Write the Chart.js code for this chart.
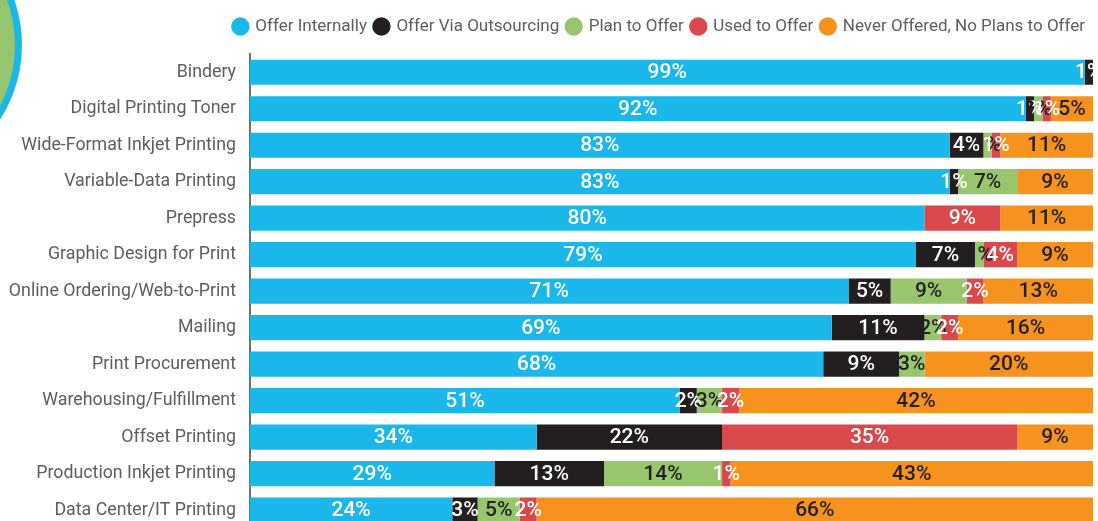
<!DOCTYPE html>
<html>
<head>
<meta charset="utf-8">
<script src="https://cdn.jsdelivr.net/npm/chart.js@4"></script>
<style>
  html, body { margin: 0; padding: 0; background: #fff; overflow: hidden; }
  #wrap { position: relative; width: 1098px; height: 553px; }
  #badge {
    position: absolute; left: -254px; top: -93px;
    width: 262px; height: 262px; border-radius: 50%;
    background: #98c66f; border: 7px solid #1ab7ea;
  }
</style>
</head>
<body>
<div id="wrap">
  <div id="badge"></div>
  <canvas id="chart" width="1098" height="553"></canvas>
</div>
<script>
// services (top to bottom)
const categories = [
  'Bindery', 'Digital Printing Toner', 'Wide-Format Inkjet Printing',
  'Variable-Data Printing', 'Prepress', 'Graphic Design for Print',
  'Online Ordering/Web-to-Print', 'Mailing', 'Print Procurement',
  'Warehousing/Fulfillment', 'Offset Printing', 'Production Inkjet Printing',
  'Data Center/IT Printing'
];

const offerInternally  = [99, 92, 83, 83, 80, 79, 71, 69, 68, 51, 34, 29, 24];
const offerOutsourcing = [1, 1, 4, 1, 0, 7, 5, 11, 9, 2, 22, 13, 3];
const planToOffer      = [0, 1, 1, 7, 0, 1, 9, 2, 3, 3, 0, 14, 5];
const usedToOffer      = [0, 1, 1, 0, 9, 4, 2, 2, 0, 2, 35, 1, 2];
const neverOffered     = [0, 5, 11, 9, 11, 9, 13, 16, 20, 42, 9, 43, 66];

const seriesNames = ['Offer Internally', 'Offer Via Outsourcing', 'Plan to Offer', 'Used to Offer', 'Never Offered, No Plans to Offer'];
const colors = ['#1ab7ea', '#231f20', '#98c66f', '#d9484a', '#f6921e'];
const labelColors = ['#ffffff', '#ffffff', '#231f20', '#ffffff', '#231f20'];

const FONT = 'Roboto, "DejaVu Sans", sans-serif';

// draws the % value in the middle of each segment
const segmentLabels = {
  id: 'segmentLabels',
  afterDatasetsDraw(chart) {
    const ctx = chart.ctx;
    ctx.save();
    ctx.font = '500 21px ' + FONT;
    ctx.textAlign = 'center';
    ctx.textBaseline = 'middle';
    chart.data.datasets.forEach((ds, i) => {
      chart.getDatasetMeta(i).data.forEach((bar, j) => {
        const v = ds.data[j];
        if (!v) return;
        const x = (bar.x + bar.base) / 2;
        ctx.fillStyle = labelColors[i];
        ctx.fillText(v + '%', x, bar.y + 1);
      });
    });
    ctx.restore();
  }
};

const datasets = [offerInternally, offerOutsourcing, planToOffer, usedToOffer, neverOffered].map((d, i) => ({
  label: seriesNames[i],
  data: d,
  backgroundColor: colors[i],
  borderWidth: 0,
  categoryPercentage: 0.69,
  barPercentage: 1
}));

new Chart(document.getElementById('chart'), {
  type: 'bar',
  data: { labels: categories, datasets: datasets },
  options: {
    indexAxis: 'y',
    responsive: false,
    animation: false,
    layout: { padding: { top: 10, right: 5, bottom: 4, left: 0 } },
    plugins: {
      legend: {
        position: 'top',
        align: 'end',
        labels: {
          usePointStyle: true,
          pointStyle: 'circle',
          boxWidth: 13,
          boxHeight: 13,
          padding: 8,
          color: '#5d5d5d',
          font: { family: FONT, size: 17 }
        }
      },
      tooltip: { enabled: false }
    },
    scales: {
      x: {
        stacked: true,
        position: 'top',
        min: 0,
        max: 100,
        // empty axis, only used as a gap under the legend
        afterFit(scale) { scale.height = 9; },
        ticks: { display: false },
        grid: { display: false },
        border: { display: false }
      },
      y: {
        stacked: true,
        afterFit(scale) { scale.width = 250; },
        grid: { display: false, drawTicks: false },
        border: { display: true, color: '#6d6d6d', width: 2 },
        ticks: {
          padding: 14,
          color: '#5d5d5d',
          font: { family: FONT, size: 17.8 }
        }
      }
    }
  },
  plugins: [segmentLabels]
});
</script>
</body>
</html>
